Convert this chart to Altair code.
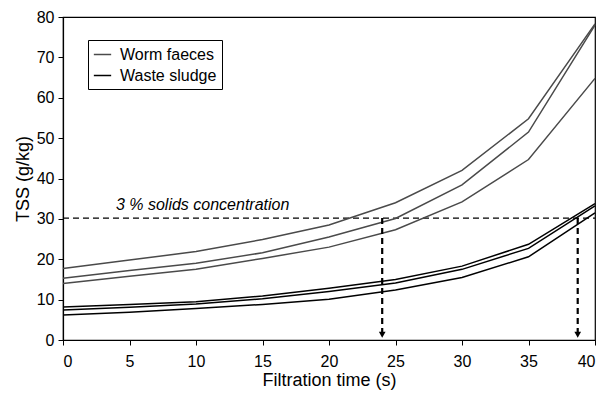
import altair as alt
import pandas as pd

time_s = [0, 5, 10, 15, 20, 25, 30, 35, 40]
worm_1 = [17.7, 19.8, 21.9, 24.9, 28.5, 34.0, 42.0, 54.8, 78.3]
worm_2 = [15.3, 17.2, 19.0, 21.6, 25.5, 30.1, 38.4, 51.5, 78.0]
worm_3 = [14.0, 15.8, 17.5, 20.2, 23.0, 27.3, 34.2, 44.7, 64.8]
sludge_1 = [8.2, 8.8, 9.5, 10.9, 12.8, 15.0, 18.3, 23.7, 33.8]
sludge_2 = [7.4, 8.1, 8.9, 10.2, 12.0, 14.1, 17.5, 22.7, 33.2]
sludge_3 = [6.2, 6.9, 7.8, 8.8, 10.1, 12.4, 15.5, 20.6, 31.5]

threshold = 30.2
arrow_x = [24.0, 38.7]
label_text = "3 % solids concentration"
label_x = 10.5
label_y = 33.4

rows = []
for name, series, vals in [
    ("w1", "Worm faeces", worm_1), ("w2", "Worm faeces", worm_2), ("w3", "Worm faeces", worm_3),
    ("s1", "Waste sludge", sludge_1), ("s2", "Waste sludge", sludge_2), ("s3", "Waste sludge", sludge_3),
]:
    for t, v in zip(time_s, vals):
        rows.append({"t": t, "v": v, "line": name, "series": series})
df = pd.DataFrame(rows)

xscale = alt.Scale(domain=[0, 40], nice=False, zero=False)
yscale = alt.Scale(domain=[0, 80], nice=False)

lines = alt.Chart(df).mark_line(strokeWidth=1.5).encode(
    x=alt.X("t:Q", scale=xscale, title="Filtration time (s)",
            axis=alt.Axis(values=list(range(0, 41, 5)), grid=False)),
    y=alt.Y("v:Q", scale=yscale, title="TSS (g/kg)",
            axis=alt.Axis(values=list(range(0, 81, 10)), grid=False)),
    color=alt.Color("series:N",
                    scale=alt.Scale(domain=["Worm faeces", "Waste sludge"], range=["#4a4a4a", "#000000"]),
                    legend=alt.Legend(title=None, orient="none", legendX=25, legendY=23,
                                      strokeColor="black", padding=5, symbolType="stroke",
                                      symbolStrokeWidth=1.5, symbolSize=300, labelFontSize=16,
                                      labelFont="Liberation Sans", rowPadding=3, fillColor="white",
                                      labelOffset=8, labelExpr="datum.label + '\u2003'")),
    detail="line:N",
)

thr_df = pd.DataFrame({"a": [0], "b": [40], "v": [threshold]})
thr = alt.Chart(thr_df).mark_rule(strokeDash=[6, 4], strokeWidth=1.3, color="black").encode(
    x=alt.X("a:Q", scale=xscale), x2="b:Q", y=alt.Y("v:Q", scale=yscale))

arr_df = pd.DataFrame({"t": arrow_x, "top": [threshold, threshold], "bot": [2.0, 2.0], "tip": [1.3, 1.3]})
arr = alt.Chart(arr_df).mark_rule(strokeDash=[6, 4], strokeWidth=2.2, color="black").encode(
    x=alt.X("t:Q", scale=xscale), y=alt.Y("top:Q", scale=yscale), y2="bot:Q")
heads = alt.Chart(arr_df).mark_point(shape="triangle-down", filled=True, size=45, color="black", opacity=1).encode(
    x=alt.X("t:Q", scale=xscale), y=alt.Y("tip:Q", scale=yscale))

lab_df = pd.DataFrame({"t": [label_x], "v": [label_y], "txt": [label_text]})
lab = alt.Chart(lab_df).mark_text(fontStyle="italic", fontSize=16, font="Liberation Sans", color="black").encode(
    x=alt.X("t:Q", scale=xscale), y=alt.Y("v:Q", scale=yscale), text="txt:N")

chart = alt.layer(thr, lines, arr, heads, lab).properties(
    width=532, height=323,
    autosize=alt.AutoSizeParams(type="none"),
    padding={"left": 55, "top": 9, "right": 2, "bottom": 52},
).configure_view(stroke="black", strokeWidth=1.2).configure_axis(
    domainColor="black", tickColor="black", labelColor="black", titleColor="black",
    labelFont="Liberation Sans", titleFont="Liberation Sans", labelFontSize=16, titleFontSize=18,
    titleFontWeight="normal", tickSize=5, domainWidth=1.2,
).configure_axisY(titlePadding=4, labelPadding=4).configure_axisX(titlePadding=2, labelPadding=8)

chart.save("out.html", embed_options={"renderer": "svg", "actions": False})
